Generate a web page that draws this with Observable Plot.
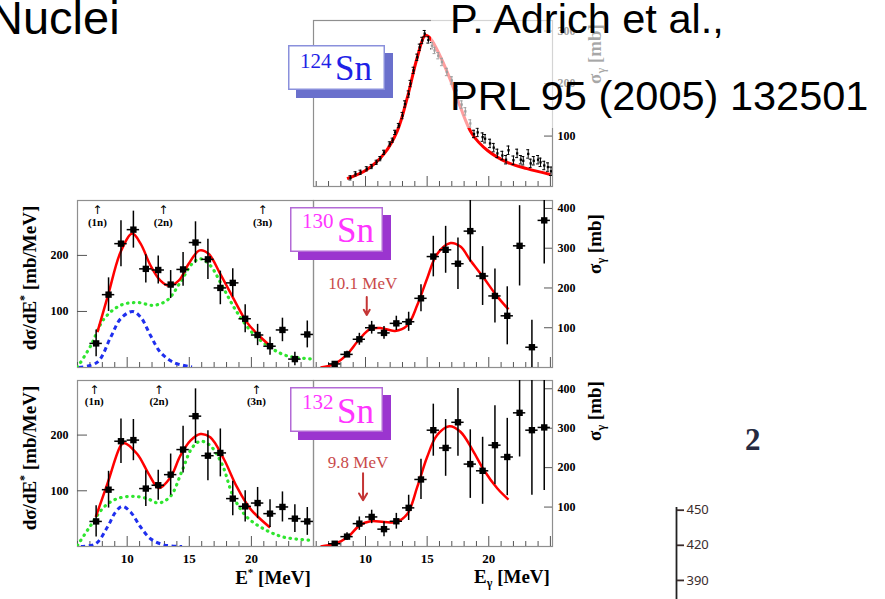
<!DOCTYPE html>
<html><head><meta charset="utf-8">
<script src="https://cdn.jsdelivr.net/npm/d3@7"></script>
<script src="https://cdn.jsdelivr.net/npm/@observablehq/plot@0.6"></script>
<style>
html,body{margin:0;padding:0;background:#fff;}
#wrap{position:relative;width:885px;height:599px;overflow:hidden;background:#fff;}
#wrap svg{position:absolute;overflow:visible;}
</style></head><body><div id="wrap"></div>
<script>
// ---------------- DATA ----------------
const binE = [7.5,8.5,9.5,10.5,11.5,12.5,13.5,14.5,15.5,16.5,17.5,18.5,19.5,20.5,21.5,22.5,23.5,24.5];
const binHalf = 0.5;

// 124Sn photo-absorption (top panel)
const sn124E   = [8.78,9.19,9.6,10.1,10.5,10.9,11.2,11.5,11.97,12.2,12.4,12.7,13.0,13.2,13.5,13.65,13.9,14.2,14.4,14.6,14.8,15.1,15.4,15.6,15.9,16.2,16.6,17.0,17.4,17.8,18.1,18.5,18.8,19.1,19.5,19.7,20.1,20.4,20.7,21.1,21.4,21.6,22.0,22.3,22.6,22.8,23.2,23.4,23.65,24.0,24.2,24.5,24.8,25.05];
const sn124Sig = [20.5,28,31,37.6,42,50,57,69,85,92,107,120,139,161,180,200,225,250,269,282,295,283,272,263,253,241,222,206,187,160,147,124,104,107,98,95,86,78,67,63,55,73,54,67,55,53,66,48,53,55,50,44,41,33];
const sn124Err = [4,4,4,4,4,4,4,4,4,4,4,4,6,6,6,6,6,6,6,6,6,6,6,6,6,7,7,7,7,7,7,7,7,8,8,8,8,8,8,8,8,8,8,8,8,8,8,8,8,8,8,8,8,8];
const sn124FitE = [8.5,10.1,11.5,12.6,13.4,14.2,14.85,15.3,16.1,16.9,17.7,18.65,19.9,21.5,23.1,25.0];
const sn124FitV = [19,36,66,111,174,250,292,285,250,206,155,104,72.5,50,38,27];

// 130Sn
const sn130Dsig    = [43,130,221,246,176,174,148,175,223,193,142,151,87,58,38,67,15,59];
const sn130DsigErr = [24,30,41,33,25,25,25,30,37,36,30,25,25,19,16,21,12,24];
const sn130Sg      = [9,33,71,100,87,111,115,174,279,296,261,343,230,180,130,306,51,370];
const sn130SgErr   = [4,8,15,16,16,18,24,34,51,59,65,78,74,68,73,101,68,110];
const sn130RedE   = [7.60,8.46,9.47,10.41,11.08,11.88,12.68,13.35,14.15,14.95,15.83,16.55,17.49,18.56,19.63,20.56,21.64];
const sn130RedV   = [63,129,206,239,221,182,155,146,155,185,209,203,167,123,81,58,36];
const sn130GreenE = [6.0,7.07,8.14,9.47,10.81,12.14,13.22,14.28,15.22,15.89,16.69,17.76,18.83,20.16,21.5,22.84,24.97];
const sn130GreenV = [0.5,39,87,111,116,111,120,152,185,194,182,141,99,60,36,21,15];
const sn130BlueE  = [6.13,7.6,8.67,9.47,10.41,11.08,11.88,12.68,13.75,15.22];
const sn130BlueV  = [0,9.5,54,87,100,90,57,27,9,1];
const sn130SgFitE = [6.35,7.5,8.5,9.5,10.4,11.3,12.4,13.4,14.2,15.0,15.8,16.9,17.7,18.5,19.6,20.6,21.6];
const sn130SgFitV = [0,9,33,71,97,99,92,106,157,224,285,313,304,270,225,182,146];
const sep130 = [7.6,12.9,20.9];

// 132Sn
const sn132Dsig    = [45,102,189,191,104,110,129,174,234,163,168,86,72,78,59,71,50,45];
const sn132DsigErr = [28,33,40,37,32,27,37,42,49,45,43,31,28,28,25,27,25,25];
const sn132Sg      = [7,25,58,75,44,64,98,170,295,250,315,209,192,257,227,339,295,302];
const sn132SgErr   = [4,10,17,17,19,20,32,51,66,72,86,87,85,100,98,112,165,160];
const sn132RedE   = [7.47,8.41,9.47,9.74,10.81,11.74,12.54,13.48,14.28,15.09,15.89,16.69,17.76,18.83,19.9,21.5];
const sn132RedV   = [53,113,181,186,166,130,105,124,163,190,202,196,158,107,68,34];
const sn132GreenE = [6.0,7.07,8.14,9.21,10.54,11.61,12.54,13.48,14.42,15.22,15.89,16.69,17.63,18.56,19.63,20.96,22.57,24.97];
const sn132GreenV = [2,38,71,86,90,86,78,90,136,177,189,181,148,89,53,32,17,11];
const sn132BlueE  = [6.27,7.47,8.41,9.07,9.61,10.27,11.08,11.88,12.95,14.42];
const sn132BlueV  = [0,5,35,62,72,62,35,14,3,0];
const sn132SgFitE = [6.35,7.5,8.6,9.5,10.4,11.5,12.5,13.4,14.2,15.0,15.8,16.8,17.7,18.7,19.6,20.7,21.6];
const sn132SgFitV = [0,7,25,53,64,62,62,83,151,227,282,305,291,244,194,147,119];
const sep132 = [7.35,12.55,20.4];

const sepLabels = ["(1n)","(2n)","(3n)"];
const ann130 = [{E:10.1, label:"10.1 MeV"}];
const ann132 = [{E:9.8, label:"9.8 MeV"}];

// tick values
const xMajorTicks = [5,10,15,20,25];
const xMinorTicks = [6,7,8,9,11,12,13,14,16,17,18,19,21,22,23,24];
const xLabelTicks = [10,15,20];
const leftTicks = [100,200];
const rightTicks = [100,200,300,400];
const topRightTicks = [100,200,300];
const fragTicks = [390,420,450];

// ---------------- LAYOUT / STYLE ----------------
const wrap = document.getElementById("wrap");
const SERIF = "'Liberation Serif','Times New Roman',serif";
const SANS = "'Liberation Sans',Arial,sans-serif";
const xLeftDom = [6,25], xRightDom = [5.78,25.17];

function panel(box, xDomain, yDomain, marks) {
  const [x0,y0,x1,y1] = box;
  const svg = Plot.plot({
    width: x1-x0, height: y1-y0, margin: 0,
    x: {domain: xDomain, axis: null, label: null},
    y: {domain: yDomain, axis: null, label: null},
    style: {fontFamily: SERIF, fontSize: "12px", fontWeight: "bold", color: "#000", background: "transparent", overflow: "visible"},
    marks
  });
  svg.style.position = "absolute";
  svg.style.left = x0 + "px";
  svg.style.top = y0 + "px";
  wrap.appendChild(svg);
}

function frameMarks(W, H, xDomain, side) {
  const inX = t => t >= xDomain[0] && t <= xDomain[1];
  const m = [
    Plot.frame({stroke: "#8f8f8f", strokeWidth: 1.2}),
    Plot.tickX(xMinorTicks.filter(inX), {x: d=>d, insetTop: H-5, stroke: "#555"}),
    Plot.tickX(xMajorTicks.filter(inX), {x: d=>d, insetTop: H-10, stroke: "#555"})
  ];
  if (side === "left") m.push(Plot.tickY(leftTicks, {y: d=>d, insetRight: W-10, stroke: "#555"}));
  if (side === "right") m.push(Plot.tickY(rightTicks, {y: d=>d, insetLeft: W-8, stroke: "#555"}));
  return m;
}

function dataMarks(E, v, err, half, r, sw) {
  const rows = E.map((e,i)=>({E:e, v:v[i], err:err[i]}));
  return [
    Plot.ruleX(rows, {x:"E", y1:d=>d.v-d.err, y2:d=>d.v+d.err, stroke:"#000", strokeWidth:sw, clip:true}),
    Plot.ruleY(rows, {y:"v", x1:d=>d.E-half, x2:d=>d.E+half, stroke:"#000", strokeWidth:sw, clip:true}),
    Plot.dot(rows, {x:"E", y:"v", symbol:"square", r, fill:"#000", stroke:"none", clip:true})
  ];
}

function curve(E, v, color, width, dash, cap) {
  const rows = E.map((e,i)=>({E:e, v:v[i]}));
  return Plot.line(rows, {x:"E", y:"v", stroke:color, strokeWidth:width, strokeDasharray:dash, strokeLinecap:cap, curve:"catmull-rom", clip:true});
}

function sepMarks(sep, dyLabel) {
  return [
    Plot.text(sep, {x:d=>d, text:()=>"\u2191", frameAnchor:"top", dy:5, fontSize:12, fontWeight:"normal", fontFamily:"DejaVu Sans"}),
    Plot.text(sep, {x:d=>d, text:(d,i)=>sepLabels[i], frameAnchor:"top", dy:dyLabel, fontSize:11})
  ];
}

const RED = "#ff0000", GREEN = "#2fe52f", BLUE = "#1f2fee";
const GREEN_DASH = "0.5,5.5", BLUE_DASH = "4.5,3.5";

// ---- top panel 124Sn ----
{
  const box = [313,20,552,186];
  const W = box[2]-box[0], H = box[3]-box[1];
  const rows = sn124E.map((e,i)=>({E:e, v:sn124Sig[i], err:sn124Err[i]}));
  panel(box, xRightDom, [4,320], [
    ...frameMarks(W, H, xRightDom, null),
    Plot.tickY(topRightTicks, {y:d=>d, insetLeft: W-8, stroke:"#555"}),
    Plot.axisY({anchor:"right", ticks: topRightTicks, tickSize:0, tickPadding:5, label:null}),
    curve(sn124FitE, sn124FitV, RED, 3, null, null),
    Plot.ruleX(rows, {x:"E", y1:d=>d.v-d.err, y2:d=>d.v+d.err, stroke:"#000", strokeWidth:1, clip:true}),
    Plot.ruleY(rows, {y:d=>d.v+d.err, x1:d=>d.E-0.12, x2:d=>d.E+0.12, stroke:"#000", strokeWidth:1, clip:true}),
    Plot.ruleY(rows, {y:d=>d.v-d.err, x1:d=>d.E-0.12, x2:d=>d.E+0.12, stroke:"#000", strokeWidth:1, clip:true}),
    Plot.dot(rows, {x:"E", y:"v", symbol:"square", r:1.3, fill:"#000", clip:true})
  ]);
}

// ---- middle left 130Sn dsigma/dE* ----
{
  const box = [77,200,313,367];
  const W = box[2]-box[0], H = box[3]-box[1];
  panel(box, xLeftDom, [0,298], [
    ...frameMarks(W, H, xLeftDom, "left"),
    Plot.axisY({anchor:"left", ticks:leftTicks, tickSize:0, tickPadding:9, label:null}),
    ...sepMarks(sep130, 18),
    curve(sn130GreenE, sn130GreenV, GREEN, 3.2, GREEN_DASH, "round"),
    curve(sn130BlueE, sn130BlueV, BLUE, 3, BLUE_DASH, "butt"),
    curve(sn130RedE, sn130RedV, RED, 2.5, null, null),
    ...dataMarks(binE, sn130Dsig, sn130DsigErr, binHalf, 3.6, 1.5)
  ]);
}

// ---- middle right 130Sn sigma_gamma ----
{
  const box = [313,200,552,367];
  const W = box[2]-box[0], H = box[3]-box[1];
  panel(box, xRightDom, [0,420], [
    ...frameMarks(W, H, xRightDom, "right"),
    Plot.axisY({anchor:"right", ticks:rightTicks, tickSize:0, tickPadding:5, label:null}),
    Plot.text(ann130, {x:"E", y:210, text:"label", dx:-4, fontSize:17, fontWeight:"normal", fill:"#c94a4a"}),
    Plot.arrow(ann130, {x1:"E", x2:"E", y1:177, y2:132, stroke:"#c43535", strokeWidth:2, headLength:6}),
    curve(sn130SgFitE, sn130SgFitV, RED, 2.5, null, null),
    ...dataMarks(binE, sn130Sg, sn130SgErr, binHalf, 3.6, 1.5)
  ]);
}

// ---- bottom left 132Sn dsigma/dE* ----
{
  const box = [77,380,313,546];
  const W = box[2]-box[0], H = box[3]-box[1];
  panel(box, xLeftDom, [0,298], [
    ...frameMarks(W, H, xLeftDom, "left"),
    Plot.axisY({anchor:"left", ticks:leftTicks, tickSize:0, tickPadding:9, label:null}),
    Plot.axisX({anchor:"bottom", ticks:xLabelTicks, tickSize:0, tickPadding:7, fontSize:13, label:null}),
    ...sepMarks(sep132, 17),
    curve(sn132GreenE, sn132GreenV, GREEN, 3.2, GREEN_DASH, "round"),
    curve(sn132BlueE, sn132BlueV, BLUE, 3, BLUE_DASH, "butt"),
    curve(sn132RedE, sn132RedV, RED, 2.5, null, null),
    ...dataMarks(binE, sn132Dsig, sn132DsigErr, binHalf, 3.6, 1.5)
  ]);
}

// ---- bottom right 132Sn sigma_gamma ----
{
  const box = [313,380,552,546];
  const W = box[2]-box[0], H = box[3]-box[1];
  panel(box, xRightDom, [0,421], [
    ...frameMarks(W, H, xRightDom, "right"),
    Plot.axisY({anchor:"right", ticks:rightTicks, tickSize:0, tickPadding:5, label:null}),
    Plot.axisX({anchor:"bottom", ticks:xLabelTicks, tickSize:0, tickPadding:7, fontSize:13, label:null}),
    Plot.text(ann132, {x:"E", y:214, text:"label", dx:-5, fontSize:17, fontWeight:"normal", fill:"#c94a4a"}),
    Plot.arrow(ann132, {x1:"E", x2:"E", y1:186, y2:117, stroke:"#c43535", strokeWidth:2, headLength:6}),
    curve(sn132SgFitE, sn132SgFitV, RED, 2.5, null, null),
    ...dataMarks(binE, sn132Sg, sn132SgErr, binHalf, 3.6, 1.5)
  ]);
}

// ---- axis fragment bottom right ----
{
  const svg = Plot.plot({
    width: 1, height: 92, margin: 0,
    x: {domain:[0,1], axis:null, label:null},
    y: {domain:[373.7,452.3], axis:null, label:null},
    style: {fontFamily:"'Noto Sans',sans-serif", fontSize:"13px", color:"#3a2c2c", background:"transparent", overflow:"visible"},
    marks: [
      Plot.ruleX([1], {stroke:"#222", strokeWidth:1.8}),
      Plot.axisY({anchor:"right", ticks:fragTicks, tickSize:7, tickPadding:3, strokeWidth:1.8, label:null})
    ]
  });
  svg.style.position = "absolute"; svg.style.left = "675px"; svg.style.top = "507px";
  wrap.appendChild(svg);
}

// ---------------- OVERLAY TEXT ----------------
const ov = d3.select(wrap).append("svg").attr("width",885).attr("height",599).style("left","0px").style("top","0px");
// semi-transparent text box of the slide
ov.append("rect").attr("x",431).attr("y",0).attr("width",454).attr("height",128).attr("fill","#fff").attr("fill-opacity",0.62);

function sigmaLabel(cx, cy, opacity) {
  const t = ov.append("text").attr("transform",`translate(${cx},${cy}) rotate(-90)`)
    .attr("text-anchor","middle").attr("font-family",SERIF).attr("font-weight","bold").attr("font-size",19).attr("fill","#000").attr("fill-opacity",opacity);
  t.append("tspan").text("\u03c3");
  t.append("tspan").attr("font-size",12).attr("dy",4).text("\u03b3");
  t.append("tspan").attr("dy",-4).text(" [mb]");
}
sigmaLabel(601, 54, 0.35);
sigmaLabel(601, 244, 1);
sigmaLabel(601, 411, 1);

function dsigLabel(cx, cy) {
  const t = ov.append("text").attr("transform",`translate(${cx},${cy}) rotate(-90)`)
    .attr("text-anchor","middle").attr("font-family",SERIF).attr("font-weight","bold").attr("font-size",19).attr("fill","#000");
  t.append("tspan").text("d\u03c3/dE");
  t.append("tspan").attr("font-size",12).attr("dy",-8).text("*");
  t.append("tspan").attr("dy",8).text(" [mb/MeV]");
}
dsigLabel(36, 278);
dsigLabel(36, 458);

{
  const t = ov.append("text").attr("x",273).attr("y",584).attr("text-anchor","middle")
    .attr("font-family",SERIF).attr("font-weight","bold").attr("font-size",19);
  t.append("tspan").text("E");
  t.append("tspan").attr("font-size",11).attr("dy",-8).text("*");
  t.append("tspan").attr("dy",8).text(" [MeV]");
  const u = ov.append("text").attr("x",512).attr("y",583).attr("text-anchor","middle")
    .attr("font-family",SERIF).attr("font-weight","bold").attr("font-size",19);
  u.append("tspan").text("E");
  u.append("tspan").attr("font-size",12).attr("dy",4).text("\u03b3");
  u.append("tspan").attr("dy",-4).text(" [MeV]");
}

// isotope boxes
function isoBox(x, y, w, h, mass, txtColor, border, shadow, digBase, snBase) {
  ov.append("rect").attr("x",x+8).attr("y",y+8).attr("width",w).attr("height",h).attr("fill",shadow);
  ov.append("rect").attr("x",x+0.75).attr("y",y+0.75).attr("width",w-1.5).attr("height",h-1.5).attr("fill","#fff").attr("stroke",border).attr("stroke-width",1.5);
  ov.append("text").attr("x",x+12).attr("y",digBase).attr("font-family",SERIF).attr("font-size",21).attr("fill",txtColor).text(mass);
  ov.append("text").attr("x",x+47).attr("y",snBase).attr("font-family",SERIF).attr("font-size",35).attr("fill",txtColor).text("Sn");
}
isoBox(288, 45, 97, 45, "124", "#1e22e6", "#8a90dc", "#6a70cc", 68, 80);
isoBox(290, 207, 93, 45, "130", "#ff36ff", "#b36ad6", "#9b35cf", 228, 242);
isoBox(290, 387, 93, 45, "132", "#ff36ff", "#b36ad6", "#9b35cf", 409, 423);

// slide texts
ov.append("text").attr("x",-11).attr("y",34).attr("font-family",SANS).attr("font-size",47).attr("fill","#000").text("Nuclei");
ov.append("text").attr("x",450).attr("y",33).attr("font-family",SANS).attr("font-size",41.5).attr("fill","#000").text("P. Adrich et al.,");
ov.append("text").attr("x",450).attr("y",110).attr("font-family",SANS).attr("font-size",41.5).attr("fill","#000").text("PRL 95 (2005) 132501");
ov.append("text").attr("x",745).attr("y",450).attr("font-family",SERIF).attr("font-weight","bold").attr("font-size",31).attr("fill","#262a40").text("2");
</script></body></html>
